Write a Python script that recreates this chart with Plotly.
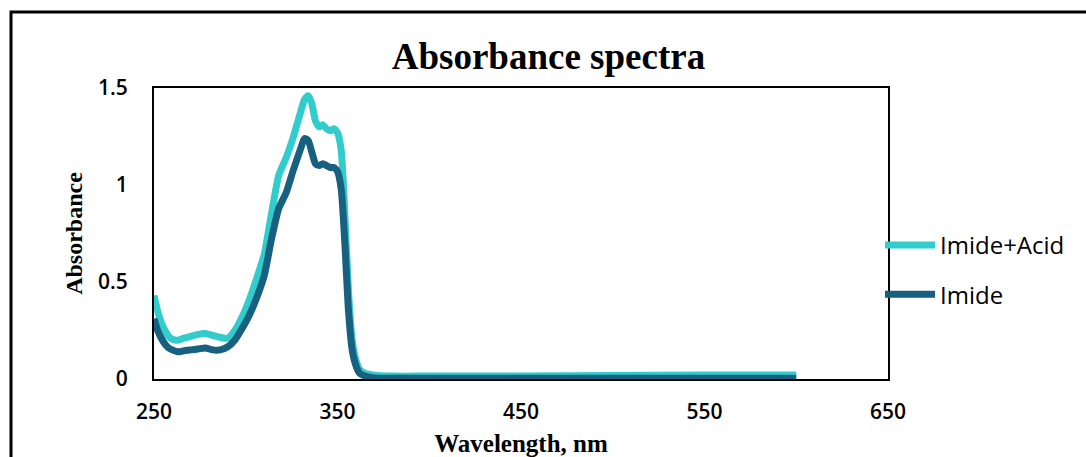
import plotly.graph_objects as go

# Wavelength grid (nm) and absorbance readings for both samples
wavelength = [250, 252, 254, 256, 258, 260, 263, 266, 270, 274, 278, 282, 286, 290,
              294, 298, 302, 306, 310, 314, 318, 322, 326, 330, 332, 334, 336, 338,
              340, 342, 344, 346, 348, 350, 352, 354, 356, 358, 360, 362, 365, 370,
              380, 400, 450, 500, 550, 600]

imide_acid = [0.43, 0.35, 0.29, 0.25, 0.22, 0.205, 0.20, 0.21, 0.22, 0.23, 0.235, 0.225, 0.215, 0.21,
              0.25, 0.32, 0.41, 0.52, 0.64, 0.85, 1.05, 1.14, 1.25, 1.38, 1.44, 1.46, 1.42, 1.33,
              1.30, 1.31, 1.29, 1.28, 1.29, 1.27, 1.18, 0.85, 0.45, 0.20, 0.10, 0.05, 0.03, 0.02,
              0.015, 0.015, 0.015, 0.018, 0.02, 0.02]

imide = [0.31, 0.25, 0.21, 0.18, 0.16, 0.15, 0.14, 0.145, 0.15, 0.155, 0.16, 0.15, 0.15, 0.165,
         0.20, 0.26, 0.33, 0.42, 0.53, 0.72, 0.88, 0.96, 1.08, 1.19, 1.24, 1.23, 1.17, 1.11,
         1.10, 1.11, 1.10, 1.09, 1.09, 1.07, 0.98, 0.70, 0.35, 0.15, 0.07, 0.03, 0.015, 0.005,
         0.004, 0.004, 0.004, 0.004, 0.004, 0.004]

x_ticks = [250, 350, 450, 550, 650]
y_ticks = [0, 0.5, 1, 1.5]
y_tick_text = ["0", "0.5", "1", "1.5"]

ACID_COLOR = "#33CCCC"
IMIDE_COLOR = "#17607F"

fig = go.Figure()
fig.add_trace(go.Scatter(x=wavelength, y=imide_acid, mode="lines", name="Imide+Acid",
                         legendgroup="acid",
                         line=dict(color=ACID_COLOR, width=7, shape="spline", smoothing=0.6)))
fig.add_trace(go.Scatter(x=wavelength, y=imide, mode="lines", name="Imide",
                         legendgroup="imide",
                         line=dict(color=IMIDE_COLOR, width=7, shape="spline", smoothing=0.6)))

L, R, T, B = 154, 888, 88, 379
W, H = 1086, 457

tick_font = dict(family="Open Sans", size=21, color="black", weight=600)
serif_bold = dict(family="Liberation Serif", color="black", weight="bold")

fig.update_layout(
    width=W, height=H,
    margin=dict(l=L, r=W - R, t=T, b=H - B, pad=0, autoexpand=False),
    paper_bgcolor="white", plot_bgcolor="white",
    title=dict(text="Absorbance spectra", x=0.505, xanchor="center",
               y=1 - 56 / H, yanchor="middle",
               font=dict(size=37, **serif_bold)),
    xaxis=dict(range=[250, 650], tickvals=x_ticks, showgrid=False, zeroline=False,
               showline=True, linecolor="black", linewidth=2, mirror=True, automargin=False,
               ticks="", ticklabelstandoff=13, tickfont=tick_font,
               title=dict(text="Wavelength, nm", font=dict(size=25, **serif_bold), standoff=25)),
    yaxis=dict(range=[0, 1.5], tickvals=y_ticks, ticktext=y_tick_text, showgrid=False,
               zeroline=False, showline=True, linecolor="black", linewidth=2, mirror=True,
               automargin=False, ticks="", ticklabelstandoff=20, tickfont=tick_font,
               title=dict(text="Absorbance", font=dict(size=24, **serif_bold), standoff=9)),
    legend=dict(x=(880 - L) / (R - L), xanchor="left", y=(B - 223) / (B - T), yanchor="top",
                font=dict(family="Open Sans", size=24, color="black"),
                itemwidth=50, bgcolor="rgba(0,0,0,0)", tracegroupgap=15),
    showlegend=True,
)

# Outer chart border
fig.add_shape(type="rect", xref="paper", yref="paper",
              x0=(11 - L) / (R - L), x1=(W + 20 - L) / (R - L),
              y0=(B - (H + 20)) / (B - T), y1=(B - 12) / (B - T),
              line=dict(color="black", width=3), fillcolor="rgba(0,0,0,0)", layer="below")

fig.write_html("out.html")
